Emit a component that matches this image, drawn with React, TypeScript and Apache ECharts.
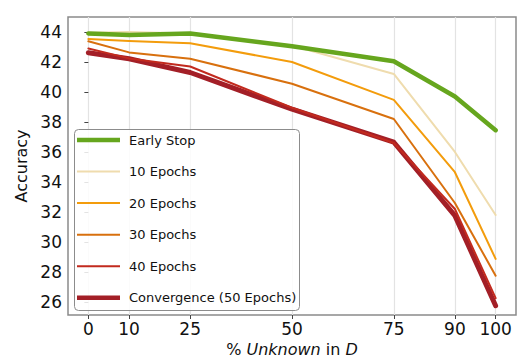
import React, { useEffect, useRef } from "react";
import * as echarts from "echarts";

const xValues = [0, 10, 25, 50, 75, 90, 100];
const yTicks = [26, 28, 30, 32, 34, 36, 38, 40, 42, 44];

const seriesNames = [
  "Early Stop",
  "10 Epochs",
  "20 Epochs",
  "30 Epochs",
  "40 Epochs",
  "Convergence (50 Epochs)",
];
const earlyStop = [43.9, 43.8, 43.9, 43.05, 42.05, 39.7, 37.45];
const epochs10 = [43.95, 44.0, 43.9, 43.1, 41.2, 36.0, 31.8];
const epochs20 = [43.53, 43.4, 43.25, 42.0, 39.47, 34.65, 28.87];
const epochs30 = [43.38, 42.64, 42.22, 40.55, 38.2, 32.6, 27.75];
const epochs40 = [42.9, 42.24, 41.7, 38.95, 36.6, 32.2, 26.25];
const convergence = [42.62, 42.22, 41.3, 38.85, 36.65, 31.75, 25.75];

const seriesData = [earlyStop, epochs10, epochs20, epochs30, epochs40, convergence];
const colors = ["#66a61e", "#efdcae", "#f39c0c", "#d8700e", "#c22a1e", "#a31f27"];
const widths = [4.5, 2, 2, 2, 2, 5];
const zs = [10, 2, 3, 4, 6, 5];

export default function App() {
  const ref = useRef<HTMLDivElement>(null);
  useEffect(() => {
    if (!ref.current) return;
    const chart = echarts.init(ref.current, null, { renderer: "svg" });
    const font = "DejaVu Sans";

    const legendX = 74;
    const legendY = 129;
    const legendW = 225;
    const legendH = 181;
    const firstY = 140;
    const pitch = 31.55;
    const legendElements: any[] = [
      {
        type: "rect",
        z: 100,
        shape: { x: legendX + 0.5, y: legendY + 0.5, width: legendW, height: legendH, r: 4 },
        style: { fill: "rgba(255,255,255,0.85)", stroke: "#8c8c8c", lineWidth: 1 },
      },
    ];
    seriesNames.forEach((name, i) => {
      const y = firstY + pitch * i;
      legendElements.push({
        type: "line",
        z: 101,
        shape: { x1: 77, y1: y, x2: 120, y2: y },
        style: { stroke: colors[i], lineWidth: widths[i] === 2 ? 2 : 4.5 },
      });
      legendElements.push({
        type: "text",
        z: 101,
        x: 129,
        y: y,
        style: {
          text: name,
          fill: "#111",
          font: `13px "${font}"`,
          textVerticalAlign: "middle",
          textAlign: "left",
        },
      });
    });

    chart.setOption({
      animation: false,
      grid: {
        left: 68,
        top: 17,
        right: 13,
        bottom: 46,
        show: true,
        outerBoundsMode: "none",
        containLabel: false,
        borderColor: "#8a8a8a",
        borderWidth: 1.5,
        backgroundColor: "transparent",
      },
      graphic: legendElements,
      xAxis: {
        type: "value",
        min: -5,
        max: 105,
        name: "% {i|Unknown} in {i|D}",
        nameLocation: "middle",
        nameGap: 26,
        nameTextStyle: {
          fontFamily: font,
          fontSize: 16,
          color: "#111",
          rich: {
            i: { fontFamily: font, fontSize: 16, fontStyle: "italic", color: "#111" },
          },
        },
        axisLine: { show: false },
        axisTick: {
          show: true,
          length: 4,
          customValues: xValues,
          lineStyle: { color: "#444" },
        },
        axisLabel: {
          customValues: xValues,
          fontFamily: font,
          fontSize: 17,
          color: "#111",
          margin: 5,
        },
        splitLine: {
          show: true,
          lineStyle: { color: "#e3e3e3", width: 1.2 },
        },
      },
      yAxis: {
        type: "value",
        min: 25.13,
        max: 45.0,
        name: "Accuracy",
        nameLocation: "middle",
        nameGap: 28,
        nameTextStyle: { fontFamily: font, fontSize: 16, color: "#111" },
        axisLine: { show: false },
        axisTick: {
          show: true,
          length: 4,
          customValues: yTicks,
          lineStyle: { color: "#444" },
        },
        axisLabel: {
          customValues: yTicks,
          fontFamily: font,
          fontSize: 17,
          color: "#111",
          margin: 6,
        },
        splitLine: { show: false },
      },
      series: seriesNames.map((name, i) => ({
        name,
        type: "line",
        data: xValues.map((x, j) => [x, seriesData[i][j]]),
        symbol: "none",
        showSymbol: false,
        z: zs[i],
        color: colors[i],
        lineStyle: { color: colors[i], width: widths[i], join: "round", cap: "round" },
        itemStyle: { color: colors[i] },
      })),
    });
    return () => chart.dispose();
  }, []);
  return <div ref={ref} style={{ width: 529, height: 361, position: "absolute", left: 0, top: 0 }} />;
}
